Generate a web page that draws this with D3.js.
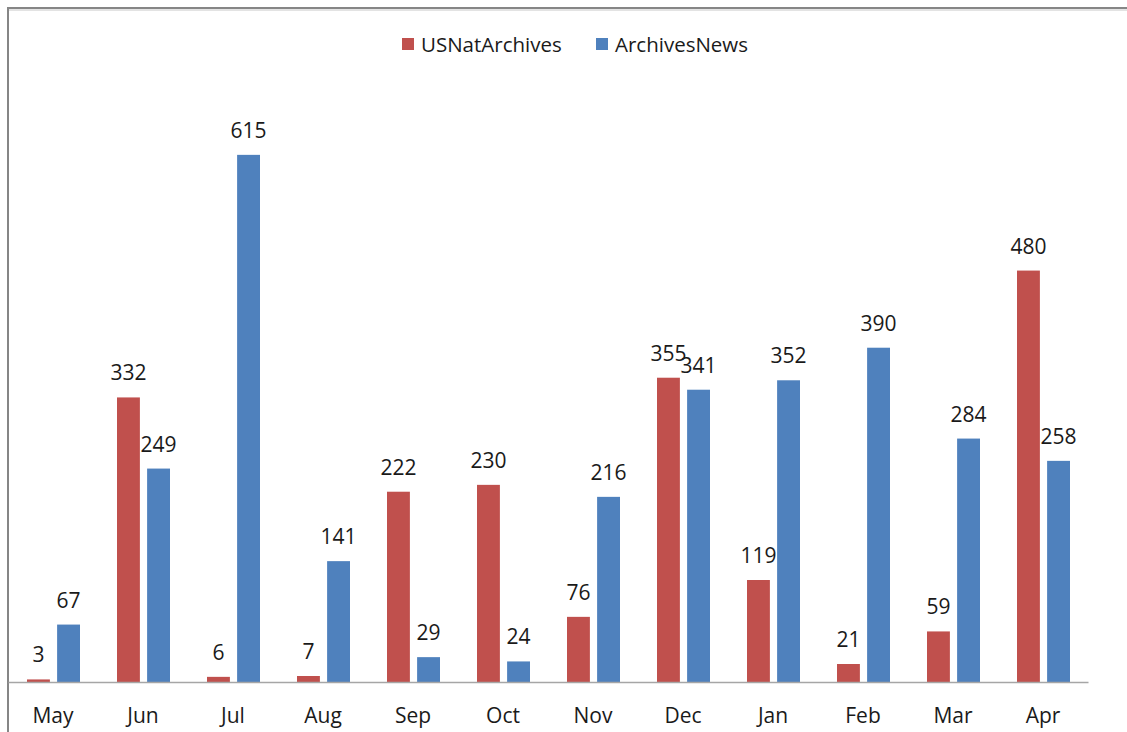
<!DOCTYPE html>
<html><head><meta charset="utf-8">
<script src="https://cdn.jsdelivr.net/npm/d3@7"></script>
<style>html,body{margin:0;padding:0;background:#fff;overflow:hidden}</style>
</head><body>
<svg id="c" width="1127" height="732"></svg>
<script>
const categories = ["May","Jun","Jul","Aug","Sep","Oct","Nov","Dec","Jan","Feb","Mar","Apr"];
const seriesNames = ["USNatArchives","ArchivesNews"];
const usNatArchives = [3,332,6,7,222,230,76,355,119,21,59,480];
const archivesNews = [67,249,615,141,29,24,216,341,352,390,284,258];
const colors = ["#C0504D","#4F81BD"];

const svg = d3.select("#c");
const font = "'Open Sans', sans-serif";
// outer frame (cut off at right/bottom)
svg.append("rect").attr("x",8).attr("y",8).attr("width",1300).attr("height",900)
  .attr("fill","none").attr("stroke","#868686").attr("stroke-width",2);
svg.append("line").attr("x1",9).attr("x2",1127).attr("y1",10).attr("y2",10)
  .attr("stroke","#c8c8c8").attr("stroke-width",1);

const x0 = d3.scaleBand().domain(categories).range([8,1088]).paddingInner(0).paddingOuter(0);
const x1 = d3.scaleBand().domain(seriesNames).range([19,72]).paddingInner(0.24);
const y = d3.scaleLinear().domain([0,700]).range([682,82]);

const data = categories.map((c,i)=>({cat:c, vals:[usNatArchives[i], archivesNews[i]]}));

const g = svg.append("g");
data.forEach(d=>{
  d.vals.forEach((v,j)=>{
    const xx = x0(d.cat) + x1(seriesNames[j]);
    g.append("rect").attr("x",xx).attr("width",x1.bandwidth())
      .attr("y",y(v)).attr("height",y(0)-y(v)).attr("fill",colors[j]);
    g.append("text").attr("x",xx + x1.bandwidth()/2).attr("y",y(v)-17)
      .attr("text-anchor","middle").attr("font-family",font).attr("font-size",21)
      .attr("fill","#1a1a1a").text(v);
  });
});

// axis
const axis = d3.axisBottom(x0).tickSize(0).tickPadding(26);
const ax = svg.append("g").attr("transform","translate(0,682)").call(axis);
ax.select(".domain").attr("stroke","#a6a6a6").attr("stroke-width",1.5);
ax.selectAll("text").attr("font-family",font).attr("font-size",21).attr("fill","#1a1a1a");

// legend
const leg = svg.append("g");
const legX = [402, 596];
seriesNames.forEach((s,j)=>{
  leg.append("rect").attr("x",legX[j]).attr("y",38).attr("width",12).attr("height",12).attr("fill",colors[j]);
  leg.append("text").attr("x",legX[j]+19).attr("y",52).attr("font-family",font).attr("font-size",20.5)
    .attr("fill","#1a1a1a").text(s);
});
</script>
</body></html>
